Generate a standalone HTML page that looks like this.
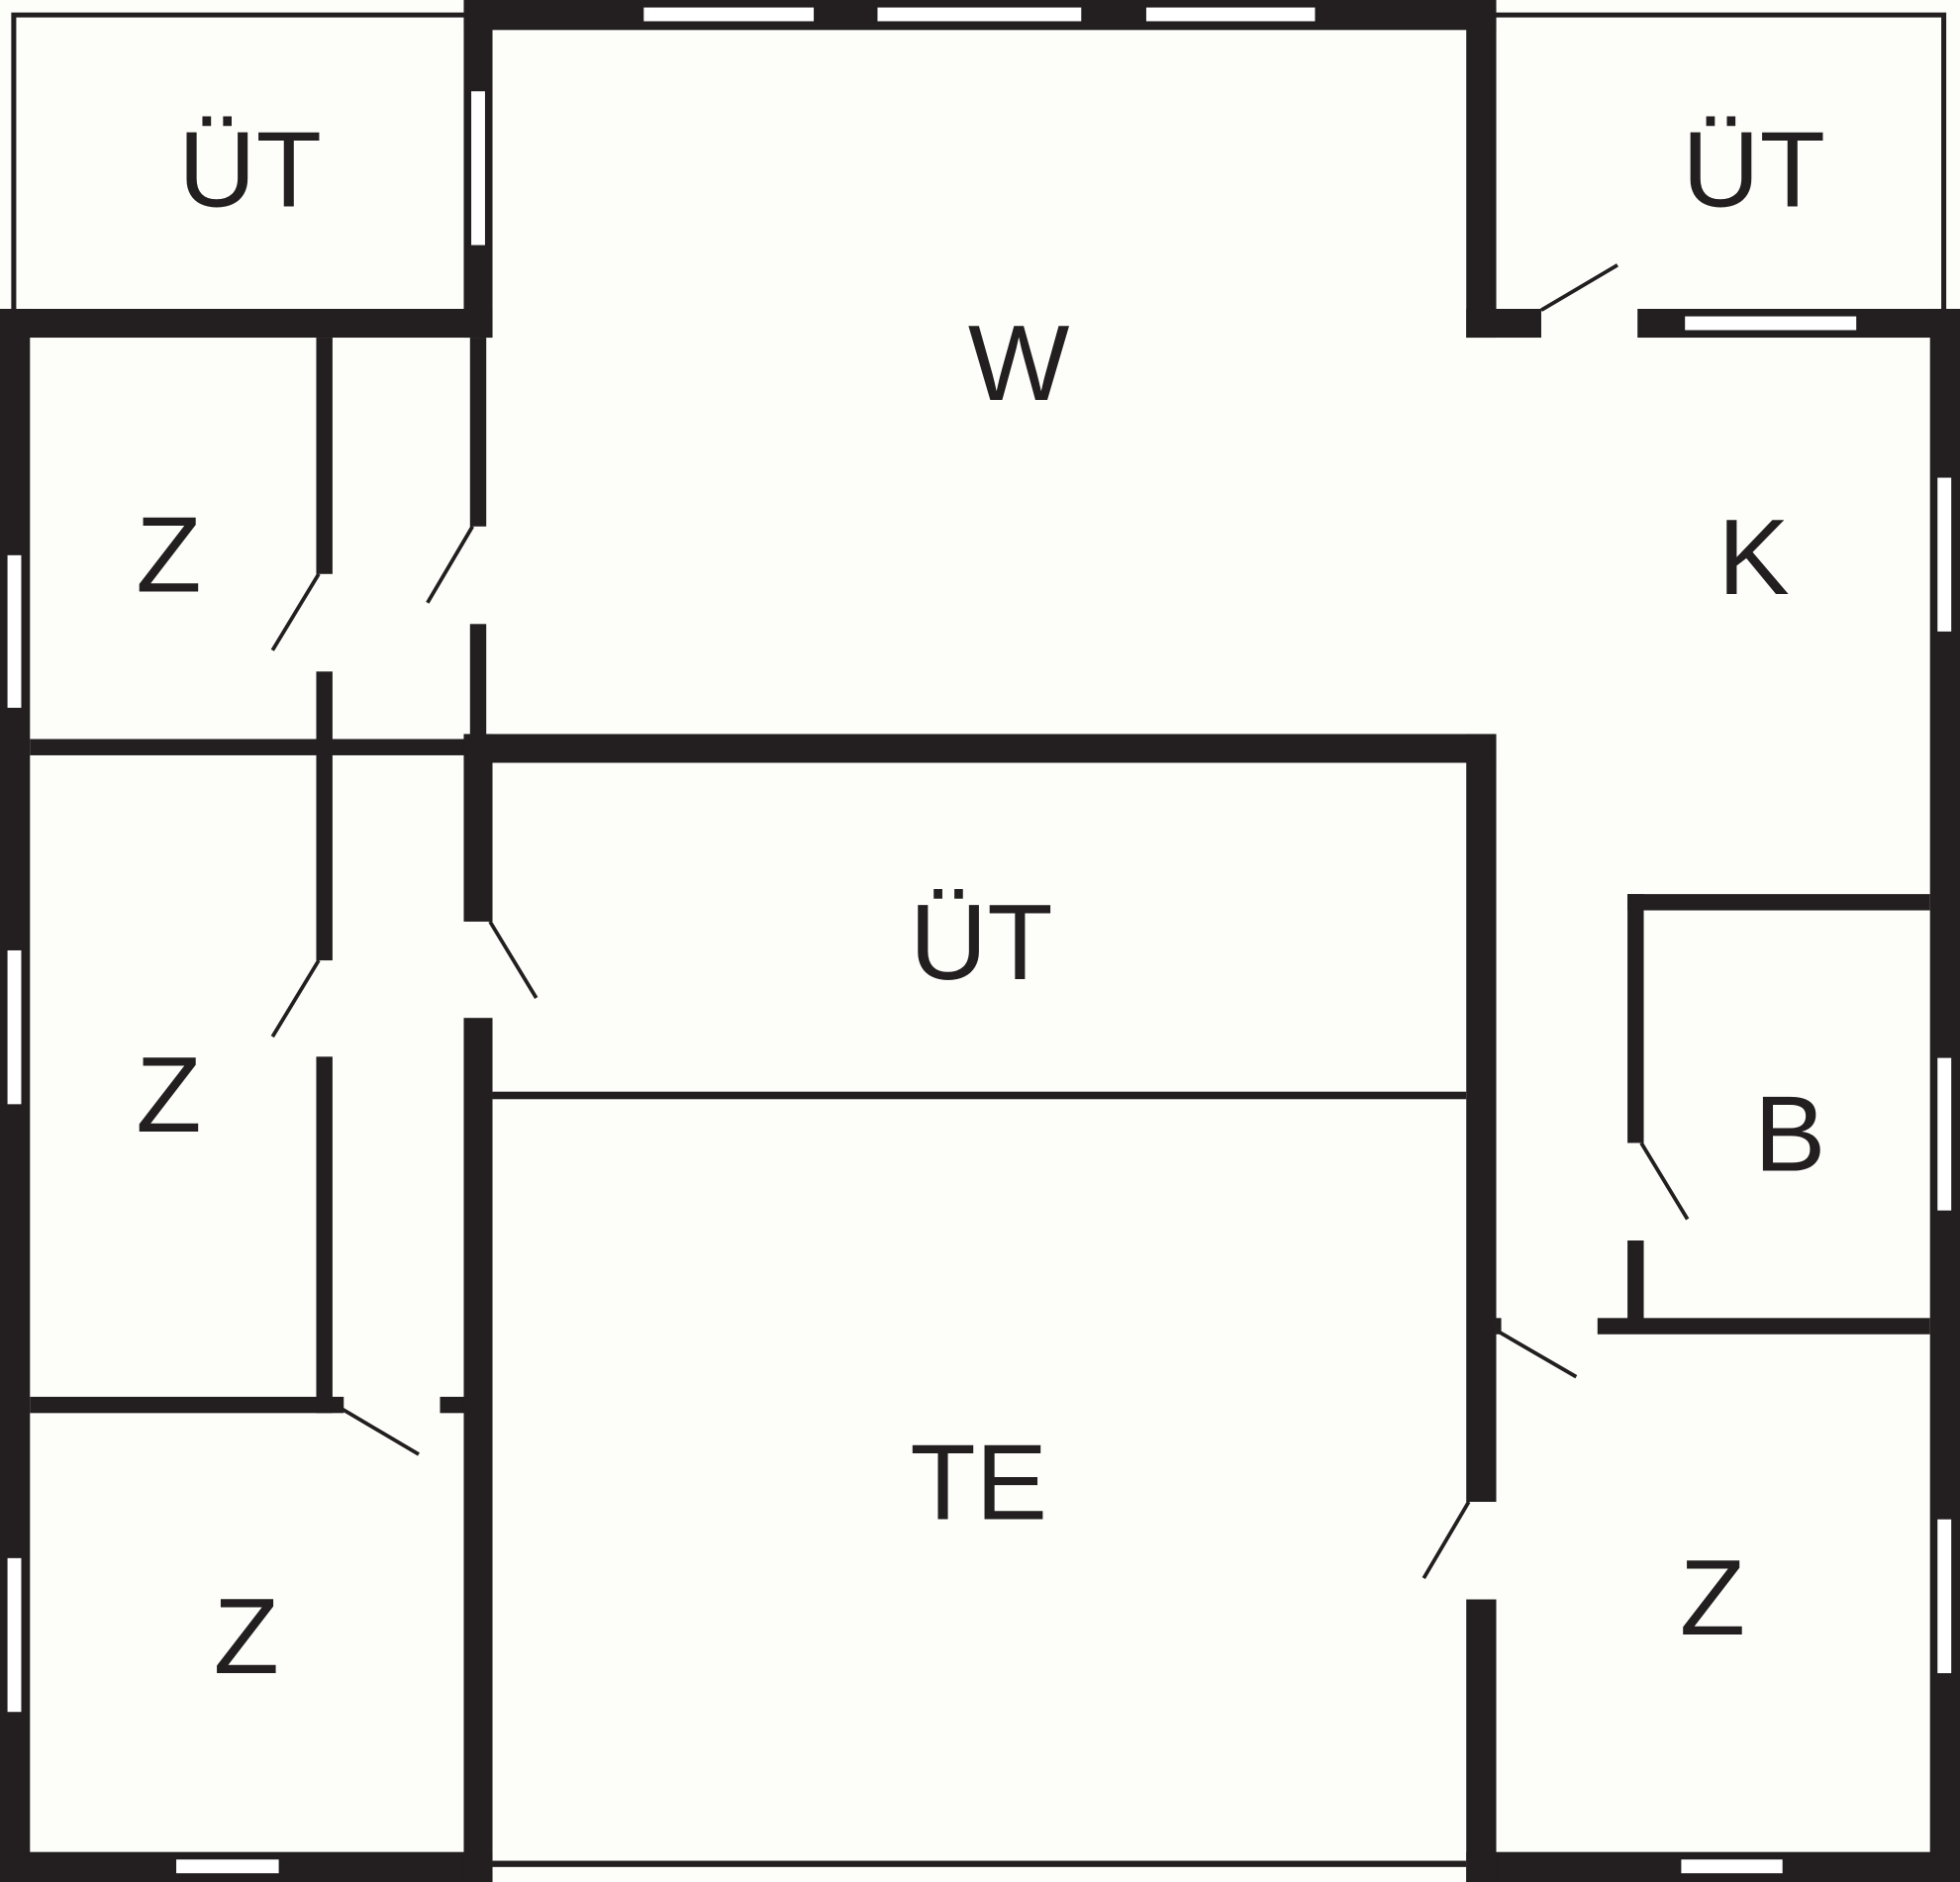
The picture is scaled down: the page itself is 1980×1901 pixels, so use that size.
<!DOCTYPE html>
<html><head><meta charset="utf-8"><style>
html,body{margin:0;padding:0;background:#fdfefa;}
svg{display:block;}
text{font-family:"Liberation Sans",sans-serif;font-size:86px;fill:#231f20;text-anchor:middle;}
</style></head><body>
<svg width="1980" height="1901" viewBox="0 0 1568 1505" preserveAspectRatio="none" xmlns="http://www.w3.org/2000/svg">
<rect width="1568" height="1505" fill="#fdfefa"/>
<g fill="none" stroke="#231f20" stroke-width="4">
<polyline points="11,250 11,12 375,12 375,250"/>
<polyline points="1195,250 1195,12 1555,12 1555,250"/>
</g>
<g fill="#231f20">
<rect x="371" y="0" width="826" height="24"/>
<rect x="371" y="0" width="23" height="270"/>
<rect x="1173" y="0" width="24" height="270"/>
<rect x="0" y="247" width="394" height="23"/>
<rect x="1173" y="247" width="60" height="23"/>
<rect x="1310" y="247" width="258" height="23"/>
<rect x="0" y="247" width="24" height="1258"/>
<rect x="1544" y="247" width="24" height="1258"/>
<rect x="0" y="1481" width="394" height="24"/>
<rect x="1173" y="1481" width="395" height="24"/>
<rect x="394" y="1488" width="779" height="5"/>
<rect x="253" y="270" width="13" height="189"/>
<rect x="253" y="537" width="13" height="231"/>
<rect x="253" y="845" width="13" height="285"/>
<rect x="376" y="270" width="13" height="151"/>
<rect x="376" y="499" width="13" height="92"/>
<rect x="24" y="591" width="356" height="13"/>
<rect x="24" y="1117" width="251" height="13"/>
<rect x="352" y="1117" width="20" height="13"/>
<rect x="371" y="587" width="826" height="23"/>
<rect x="371" y="587" width="23" height="150"/>
<rect x="371" y="814" width="23" height="691"/>
<rect x="1173" y="587" width="24" height="614"/>
<rect x="1173" y="1279" width="24" height="226"/>
<rect x="394" y="873" width="779" height="6"/>
<rect x="1302" y="715" width="242" height="13"/>
<rect x="1302" y="715" width="13" height="199"/>
<rect x="1302" y="992" width="13" height="68"/>
<rect x="1278" y="1054" width="266" height="13"/>
<rect x="1197" y="1054" width="4" height="13"/>
</g>
<g fill="#fff" stroke="#231f20" stroke-width="2">
<rect x="514" y="5" width="138" height="13"/>
<rect x="701" y="5" width="165" height="13"/>
<rect x="916" y="5" width="137" height="13"/>
<rect x="376" y="72" width="13" height="125"/>
<rect x="1347" y="252" width="139" height="13"/>
<rect x="5" y="443" width="13" height="124"/>
<rect x="5" y="759" width="13" height="125"/>
<rect x="5" y="1245" width="13" height="125"/>
<rect x="1549" y="381" width="13" height="125"/>
<rect x="1549" y="845" width="13" height="124"/>
<rect x="1549" y="1214" width="13" height="125"/>
<rect x="140" y="1486" width="84" height="13"/>
<rect x="1344" y="1486" width="83" height="13"/>
</g>
<g stroke="#231f20" stroke-width="3" fill="none">
<line x1="1233" y1="248" x2="1294" y2="212"/>
<line x1="255" y1="459" x2="218" y2="520"/>
<line x1="378" y1="421" x2="342" y2="482"/>
<line x1="255" y1="768" x2="218" y2="829"/>
<line x1="392" y1="737" x2="429" y2="798"/>
<line x1="274" y1="1127" x2="335" y2="1163"/>
<line x1="1313" y1="914" x2="1350" y2="975"/>
<line x1="1199" y1="1065" x2="1261" y2="1101"/>
<line x1="1175" y1="1201" x2="1139" y2="1262"/>
</g>
<text x="200" y="165">ÜT</text>
<text x="1403" y="165">ÜT</text>
<text x="815" y="320">W</text>
<text x="135" y="473">Z</text>
<text x="1403" y="475">K</text>
<text x="785" y="783">ÜT</text>
<text x="135" y="905">Z</text>
<text x="1432" y="936">B</text>
<text x="783" y="1215">TE</text>
<text x="197" y="1338">Z</text>
<text x="1370" y="1307">Z</text>
</svg>
</body></html>
